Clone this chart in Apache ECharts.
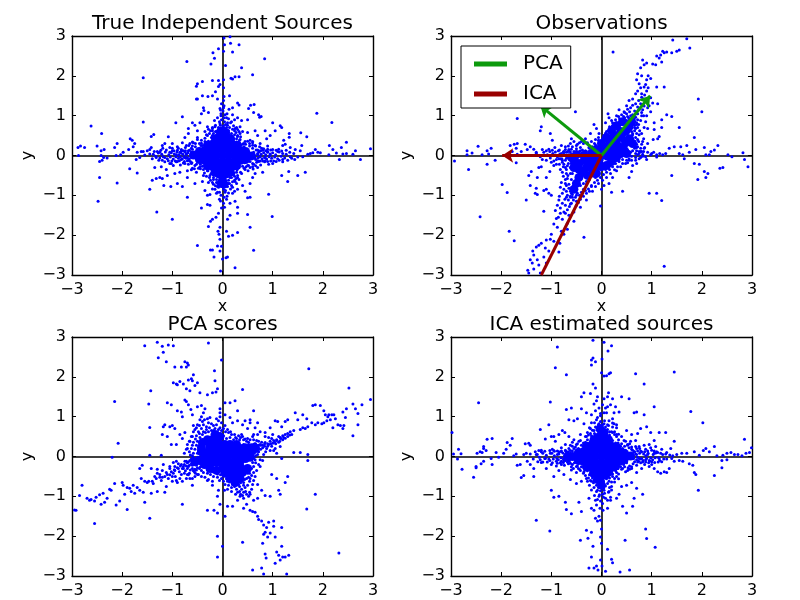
<!DOCTYPE html>
<html><head><meta charset="utf-8">
<script src="https://cdn.jsdelivr.net/npm/echarts@6/dist/echarts.min.js"></script>
<style>html,body{margin:0;padding:0;background:#fff}#c{width:800px;height:600px}</style></head>
<body><div id="c"></div>
<script>
const titles=["True Independent Sources","Observations","PCA scores","ICA estimated sources"];
const tickValues=[-3,-2,-1,0,1,2,3];
const tickLabels=["\u22123","\u22122","\u22121","0","1","2","3"];
const pcaArrows=[[[0,0],[0.97,1.5]],[[0,0],[-1.22,1.25]]];
const icaArrows=[[[0,0],[-1.98,0]]];
const icaLine=[[[0,0],[-1.2,-3]]];

const sourcesCore=[[0,0],[.12,0],[-.12,0],[.24,0],[-.24,0],[.36,0],[-.36,0],[.48,.01],[-.48,.01],[.58,-.01],[-.58,.01],[0,.16],[.12,.16],[-.12,.16],[.24,.16],[-.24,.15],[.36,.12],[-.36,.12],[.46,.1],[-.46,.1],[0,.32],[.1,.32],[-.1,.32],[.2,.28],[-.2,.28],[.3,.26],[-.3,.26],[0,.48],[.08,.48],[-.07,.47],[.16,.42],[-.14,.42],[0,.62],[.06,.58],[-.04,.6],[0,-.16],[.12,-.16],[-.12,-.16],[.24,-.16],[-.24,-.15],[.36,-.12],[-.36,-.12],[.46,-.1],[-.46,-.1],[0,-.32],[.1,-.32],[-.1,-.32],[.2,-.28],[-.2,-.28],[.28,-.26],[-.3,-.26],[0,-.48],[.08,-.46],[-.08,-.46],[.15,-.42],[-.15,-.42],[0,-.62],[.03,-.72],[-.03,-.7]];
const sourcesMid=[[-1.28,.06],[-1.21,.03],[-1.14,.09],[-1.07,.02],[-1.02,.07],[-.96,.04],[-.91,.09],[-.87,.02],[-.83,.06],[-.79,.03],[-.75,.09],[-.72,.04],[-.69,.07],[.7,.05],[.73,.09],[.77,.03],[.82,.07],[.86,.02],[.9,.08],[.95,.04],[1,.07],[1.06,.02],[1.13,.09],[1.2,.05],[1.27,.03],[-1.25,-.06],[-1.18,-.03],[-1.1,-.08],[-1.04,-.04],[-.98,-.09],[-.93,-.03],[-.88,-.07],[-.84,-.04],[-.8,-.08],[-.76,-.03],[-.73,-.07],[-.7,-.05],[.71,-.06],[.75,-.03],[.79,-.08],[.84,-.05],[.88,-.09],[.93,-.03],[.98,-.07],[1.04,-.04],[1.1,-.08],[1.17,-.02],[1.24,-.06],[-1,.18],[-.9,.22],[-.82,.15],[-.74,.2],[-.67,.25],[-.6,.16],[-.54,.22],[-.48,.17],[-.43,.25],[.43,.22],[.48,.15],[.54,.24],[.6,.18],[.67,.14],[.74,.22],[.82,.17],[.9,.24],[-1.02,-.2],[-.92,-.16],[-.84,-.24],[-.76,-.15],[-.68,-.22],[-.61,-.18],[-.55,-.25],[-.49,-.16],[-.44,-.22],[.44,-.18],[.5,-.25],[.55,-.15],[.62,-.22],[.68,-.17],[.76,-.24],[.84,-.16],[.92,-.22],[-.6,.34],[-.5,.4],[-.42,.31],[-.35,.43],[-.28,.36],[-.22,.45],[.22,.42],[.28,.34],[.35,.4],[.42,.3],[.5,.36],[.6,.32],[-.62,-.36],[-.52,-.42],[-.44,-.33],[-.36,-.44],[-.29,-.38],[-.23,-.46],[.23,-.43],[.29,-.36],[.36,-.42],[.43,-.32],[.51,-.38],[.61,-.34],[-.18,.55],[-.12,.6],[-.2,.68],[-.14,.76],[-.08,.7],[.12,.62],[.18,.55],[.14,.7],[.2,.66],[.1,.76],[.16,.82],[.24,.9],[.12,.92],[.06,.78],[-.06,.85],[-.1,.95],[-.03,1],[.03,.95],[.09,1.05],[-.04,1.14],[.02,1.2],[-.02,1.3],[.04,.85],[.27,.58],[.24,.52],[.3,.5],[-.26,.55],[-.32,.52],[-.18,-.55],[-.12,-.6],[-.2,-.68],[-.14,-.76],[-.08,-.8],[.12,-.62],[.18,-.55],[.14,-.7],[.2,-.66],[.1,-.78],[.16,-.84],[.24,-.9],[.12,-.94],[.06,-.88],[-.06,-.92],[-.12,-.95],[-.03,-1],[.03,-1.05],[.09,-1.02],[-.04,-1.14],[.02,-1.2],[-.02,-1.32],[.27,-.58],[.24,-.52],[.3,-.5],[-.26,-.55],[-.32,-.52],[-.38,-.5],[.06,-.7],[-.06,-.7],[.08,.7],[-.04,.76],[.55,.05],[.62,.08],[.65,-.06],[-.62,.09],[-.66,-.08],[.3,.48],[.36,.47],[-1.45,.04],[-1.4,-.08],[-1.36,.1],[-1.33,-.02],[-1.27,-.12],[-1.23,.13],[-1.19,.18],[-1.15,-.16],[-1.12,.14],[-1.08,-.13],[-1.05,.2],[-1.01,-.14],[-.97,.12],[-.94,-.14],[-.9,.13],[-.86,-.13],[-.82,.11],[-.78,-.19],[-.74,.12],[-.7,-.13],[-.66,.13],[-.64,-.15],[-.6,.24],[-.56,-.33],[-.54,.3],[-.48,-.32],[-.46,.3],[-.4,-.27],[-.4,.25],[-.33,-.32],[-.32,.3],[.33,.32],[.33,-.3],[.4,.28],[.4,-.27],[.46,.28],[.47,-.28],[.54,.3],[.55,-.3],[.6,.26],[.6,-.28],[.66,.24],[.66,-.26],[.7,.14],[.7,-.13],[.76,.12],[.75,-.14],[.8,.13],[.8,-.14],[.86,.12],[.85,-.13],[.9,.16],[.9,-.15],[.96,.14],[.96,-.14],[1,.15],[1.02,-.14],[1.07,.13],[1.07,-.15],[1.12,.16],[1.13,-.12],[1.18,.11],[1.2,-.16],[1.27,.13],[1.3,-.12],[1.34,.08],[1.38,-.07],[1.42,.05],[1.5,-.04],[-.24,.62],[-.28,.66],[.28,.7],[.24,.62],[.33,.6],[-.24,-.62],[-.28,-.68],[.28,-.7],[.24,-.62],[.33,-.6],[.2,-.8],[-.2,-.84]];
const sourcesOuter=[[-2.88,.2],[-2.83,.24],[-2.75,.2],[-2.87,0],[-2.5,.24],[-2.42,.12],[-2.36,.15],[-2.42,0],[-2.45,-.15],[-2.4,-.12],[-2.37,-.05],[-2.3,-.06],[-2.15,.2],[-2.1,.3],[-2.12,0],[-2.03,.02],[-1.98,.08],[-1.87,.15],[-1.84,.42],[-1.8,.38],[-1.78,.22],[-1.75,.3],[-1.72,-.1],[-1.7,.08],[-1.65,-.05],[-1.62,.1],[-1.58,.1],[-1.55,.01],[-1.5,.12],[-1.45,.15],[-1.42,.2],[-2.62,.74],[-2.41,.55],[-1.58,.84],[-2.45,-.55],[-2.1,-.69],[-2.48,-1.15],[-1.85,-.33],[-1.7,-.44],[-1.45,-.85],[-1.31,-1.42],[-1,-1.6],[-.7,-1.05],[-1.58,1.95],[-.71,2.36],[.84,2.43],[.6,2.03],[.38,2.2],[.06,2.26],[-.23,2.3],[-.16,2.44],[-.19,2.58],[-.08,2.68],[.02,2.62],[.04,2.78],[.16,2.82],[.03,2.95],[.15,2.98],[.33,2.78],[.2,2.6],[.25,1.98],[.33,1.98],[.2,1.92],[.17,1.94],[.02,1.9],[-.08,1.88],[-.2,1.88],[-.4,1.86],[-.5,1.8],[-.52,1.74],[-.08,1.73],[-.05,1.78],[.02,1.7],[-.14,1.6],[-.29,1.48],[-.4,1.5],[-.5,1.42],[-.2,1.5],[-.1,1.42],[.14,1.5],[.03,1.48],[-.52,1.42],[.3,1.32],[.33,1.27],[.56,1.26],[.63,1.28],[.52,1.18],[.2,1.2],[.13,1.16],[-.38,1.2],[-.37,1.13],[-.42,1.05],[-.28,1.08],[.02,1.38],[.03,1.25],[-.05,1.18],[.01,1.12],[-.03,1.05],[.05,1.02],[.08,.95],[.2,1.02],[.3,.95],[.38,.88],[.5,.9],[.62,1.08],[.72,1.02],[.77,.98],[.74,.96],[-.8,.97],[-.6,.82],[-.93,.82],[-.68,.68],[-.55,.76],[-.45,.82],[-.5,.62],[-.3,.72],[-.35,.6],[-.2,.7],[-.16,.88],[-.2,.62],[.25,.68],[.35,.72],[.4,.6],[.5,.58],[.65,.62],[.7,.5],[.85,.62],[.95,.5],[1,.82],[1.15,.75],[1.18,.7],[1.05,.62],[.88,.42],[1.22,.38],[1.33,.46],[1.33,.55],[1.56,.57],[1.68,.47],[1.88,1.06],[2.18,.83],[2.47,.33],[2.37,.2],[2.13,.25],[2.2,.15],[2.6,.03],[2.65,.12],[2.95,.17],[2.75,-.1],[2.27,.06],[2.33,-.1],[2.4,.04],[2.47,.05],[2.12,.02],[1.95,.07],[1.9,.08],[1.85,.15],[1.7,.03],[1.75,.05],[1.8,.07],[1.55,.12],[1.45,.15],[1.35,.2],[1.25,.28],[1.2,.25],[1.6,-.03],[1.58,.25],[1.44,-.1],[1.5,-.5],[1.65,-.42],[1.32,-.4],[1.3,-.65],[1.18,-.5],[1.35,-.03],[1.2,-.1],[1.1,.1],[1,-.2],[.9,.1],[.95,.02],[.85,-.05],[.78,.18],[.72,.12],[.75,.3],[.65,.25],[.6,.35],[.55,.38],[.7,-.3],[.8,-.42],[.65,-.45],[.6,-.55],[.55,-.7],[.45,-.9],[.5,-1.06],[.55,-1.05],[.92,-.97],[.99,-1.53],[.5,-1.48],[.55,-1.8],[.62,-2.38],[.25,-2.82],[.1,-2.55],[.07,-2.57],[0,-2.6],[-.04,-2.9],[-.17,-2.55],[-.05,-2.4],[-.02,-2.28],[-.1,-2.27],[-.5,-2.26],[-.24,-2.37],[-.2,-2.37],[-.05,-2.1],[.12,-2.03],[.2,-2],[.3,-1.93],[-.07,-1.98],[-.09,-1.9],[-.05,-1.8],[.1,-1.6],[.15,-1.5],[.3,-1.45],[.08,-1.9],[-.2,-1.6],[-.24,-1.65],[-.28,-1.78],[-.13,-1.55],[-.08,-1.45],[-.42,-1.32],[-.25,-1.25],[-.3,-1.23],[.04,-1.3],[.15,-1.2],[.25,-1.15],[.3,-1.3],[.08,-1.1],[-.06,-1.1],[-.3,-1],[-.25,-.98],[-.35,-.88],[-.1,-.92],[-.15,-.85],[.2,-.95],[.3,-.85],[.4,-.75],[-.4,-.65],[-.55,-.7],[-.7,-.55],[-.8,-.78],[-.9,-.7],[-1.03,-.78],[-1.17,-.75],[-1.2,-.58],[-1.1,-.5],[-.95,-.45],[-.85,-.42],[-.7,-.38],[-.6,-.32],[-1.25,-.55],[-1.32,-.58],[-1.4,-.62],[-1.35,-.3],[-1.22,-.28],[-1.12,-.35],[-1.05,-.2],[-.98,-.25],[-.9,-.15],[-.82,-.1],[-.75,-.2],[-1.32,-.05],[-1.2,-.12],[-1.15,-.05],[-1.05,.08],[-1,.12],[-.92,.02],[-.85,.08],[-.78,.12],[-1.3,.1],[-1.25,.08],[-1.38,.03],[-1.2,.25],[-1.15,.3],[-1.08,.47],[-1,.3],[-.88,.18],[-.8,.32],[-.72,.25],[-.65,.3],[-.58,.32],[-.75,.45],[-.68,.55],[-.5,.45],[-.42,.38],[-.35,.35],[-.3,.5],[-1.37,.53],[-1.42,.48],[.35,.55],[.28,.42],[.45,.35],[.42,.2],[.7,.02],[.66,-.1],[.72,-.15],[.6,-.2],[.52,-.25],[.45,-.35],[.38,-.45],[.3,-.55],[.25,-.65],[-.05,.8],[-.02,.9],[.02,.75],[.1,.82],[.18,.85],[.22,.75],[.3,.65],[.34,.38],[-.14,.6],[-.2,.5],[-.15,.72],[-.18,-.6],[-.25,-.5],[-.3,-.38],[-.38,-.35],[-.45,-.28],[-.52,-.22],[-.62,-.2],[-.68,-.12],[-.72,.04],[-.68,.12],[-.62,.18],[-.75,-.05],[.15,-.55],[.22,-.48],[.28,-.42],[.12,-.7],[.18,-.75],[-.12,-.68],[-.18,-.72],[-.1,-.78],[.02,-.85],[.05,-.92]];

const obsCore=[[0,0],[.1,.1],[.2,.2],[.3,.3],[.4,.45],[.48,.6],[.55,.72],[.6,.85],[.12,.22],[.22,.35],[.3,.48],[.38,.6],[.18,.05],[.28,.12],[.38,.2],[.48,.32],[.56,.42],[.12,-.02],[.05,.2],[.15,.38],[.25,.5],[-.1,-.1],[-.2,-.2],[-.3,-.3],[-.38,-.42],[-.45,-.55],[-.5,-.7],[-.55,-.85],[-.1,-.02],[-.22,-.08],[-.34,-.12],[-.45,-.2],[-.55,-.12],[-.08,-.25],[-.18,-.35],[-.28,-.5],[-.05,-.12],[0,-.28],[-.1,-.45],[-.02,.12],[.38,.05],[.46,.12],[.05,.08],[.62,.3],[.5,.05],[.3,-.05],[.2,-.15],[.1,-.25],[-.55,-.3],[-.45,-.35],[-.6,-.05],[-.5,.02],[-.35,0],[-.2,.05],[-.1,.15],[0,.3],[.1,.45],[.2,.62],[.3,.75],[.42,.85]];
const obsMid=[[-1.3,.05],[-1.22,-.03],[-1.15,.08],[-1.08,.02],[-1.02,-.06],[-.97,.05],[-.92,.09],[-.88,-.03],[-.83,.04],[-.79,-.08],[-.75,.03],[-.72,-.12],[-.7,.08],[-.66,.02],[-.63,-.04],[-1,-.17],[-.9,-.22],[-.84,.14],[-.78,-.17],[-.72,.15],[-.66,-.2],[-.6,.16],[-.55,.1],[-.5,.17],[-.44,.1],[-.38,.14],[-.32,.12],[-.24,.18],[-.18,.22],[-.12,.27],[-.05,.3],[.02,.42],[.05,.5],[.1,.6],[.16,.72],[.22,.82],[.28,.9],[.34,.98],[.4,1.02],[.46,1.08],[.52,1.16],[.58,1.2],[.62,1.26],[.68,1.3],[.74,1.38],[.8,1.46],[.84,1.42],[.72,1.22],[.66,1.12],[.7,1.05],[.62,1.02],[.58,1],[.54,.95],[.68,.96],[.75,1.15],[.78,1.3],[.86,1.52],[.9,1.62],[.93,1.7],[.88,1.78],[.78,1.7],[.64,.9],[.7,.82],[.72,.7],[.76,.62],[.7,.55],[.68,.45],[.74,.35],[.7,.28],[.66,.18],[.62,.12],[.68,.05],[.72,.02],[.78,-.05],[.6,-.02],[.55,-.08],[.5,-.12],[.42,-.1],[.35,-.15],[.28,-.2],[.22,-.28],[.16,-.35],[.1,-.42],[.04,-.48],[-.02,-.55],[-.08,-.62],[-.14,-.68],[-.2,-.78],[-.26,-.84],[-.3,-.72],[-.36,-.7],[-.24,-.6],[-.16,-.52],[-.32,-.88],[-.38,-.95],[-.44,-1],[-.48,-.95],[-.52,-1.05],[-.56,-1.12],[-.6,-1.2],[-.64,-1.28],[-.68,-1.36],[-.72,-1.45],[-.58,-.98],[-.62,-.9],[-.68,-1],[-.73,-1.1],[-.78,-1.2],[-.82,-1.45],[-.86,-1.55],[-.7,-.9],[-.65,-.72],[-.6,-.6],[-.58,-.45],[-.62,-.3],[-.7,-.45],[-.72,-.3],[-.78,-.12],[-.8,.05],[-.72,-.6],[-.67,-.5],[-.42,-.75],[-.36,-.85],[-.5,-.85],[.78,.18],[.84,.1],[.82,.03],[.88,-.03],[.92,.08],[.98,.02],[1.04,.08],[1.1,-.04],[1.16,.05],[1.22,.02],[.75,.1],[.7,.2],[.6,.6],[.72,.9],[.66,.76],[.8,1.08],[.85,1.24],[.92,1.35],[.98,1.45],[-.02,.22],[.04,.36],[.08,.56],[.14,.62],[.22,.75],[.3,.82],[.36,.92],[.44,.98],[.5,1.05],[.56,1.1],[-.3,.1],[-.42,.2],[-.5,.25],[-.58,.22],[-.66,.24],[-.62,.3],[-.55,.35],[-.44,.32],[-.36,.3],[-.28,.32],[-.2,.35],[-.12,.4],[-.06,.45],[-.3,-.65],[-.12,-.55],[.08,-.35],[.18,-.25],[.26,-.12],[.4,-.02],[.54,.02],[.58,.08],[.65,.35],[.62,.52],[.55,.6],[.6,.75],[.66,.62],[-1.18,.15],[-1.1,-.12],[-1.05,.16],[-.98,.13],[-.95,-.14],[-.86,.12],[-.82,-.08],[-.76,.09],[-.7,-.07],[-.67,.1],[-.72,.22],[-.65,.12],[-.62,.09],[-.84,-.22],[-.76,-.28],[-.68,-.26],[-.78,-.42],[-.76,-.52],[-.8,-.68],[-.82,-.8],[-.78,-.95],[-.84,-1.02],[-.88,-1.25],[-.92,-1.38],[-.7,-.75],[-.66,-1.12],[-.62,-1.02],[-.56,-.9],[-.5,-1.15],[-.46,-1.18],[-.42,-1.1],[-.36,-1.02],[-.3,-.95],[-.24,-.9],[-.12,-.78],[-.06,-.7],[.02,-.62],[.1,-.55],[.18,-.45],[.26,-.36],[.32,-.28],[.42,-.2],[.52,-.18],[.6,-.12],[.68,-.05],[.75,.05],[.8,.1],[.86,.2],[.8,.28],[.84,.42],[.8,.55],[.85,.7],[.88,.85],[.9,1],[.95,1.25],[.84,1],[.78,.88],[.74,.78],[.68,.68],[.5,.88],[.46,.95],[.38,.78],[.26,.68],[.12,.52],[.04,.46],[-.06,.38],[-.14,.3]];
const obsOuter=[[-2.93,-.14],[-2.68,.12],[-2.68,.02],[-2.65,-.35],[-2.58,.06],[-2.46,.23],[-2.38,.02],[-2.28,.12],[-2.28,-.22],[-2.25,.04],[-2.2,.18],[-2.12,-.12],[-2.42,-1.54],[-1.98,-.73],[-1.88,-.93],[-1.84,-1.9],[-1.74,-2.14],[-1.82,.25],[-1.78,.1],[-1.74,.28],[-1.7,.18],[-1.68,.3],[-1.68,.03],[-1.7,-.18],[-1.6,.1],[-1.52,.28],[-1.48,.15],[-1.42,.22],[-1.35,.16],[-1.3,.08],[-1.5,-1.12],[-1.45,-.5],[-1.4,-.4],[-1.42,-.75],[-1.32,-.95],[-1.28,-.98],[-1.3,-.82],[-1.25,-.3],[-1.18,-.1],[-1.2,-.28],[-1.15,-.88],[-1.1,-.85],[-1.15,-1.4],[-1.05,-.95],[-1,-1],[-1.28,-.55],[-1.1,-.55],[-1.03,-.4],[-.95,-.25],[-.9,-.1],[-1.68,.93],[-1.2,.72],[-1.22,.62],[-1.02,.55],[-.98,.38],[-.8,.25],[-.93,.2],[-1.03,.1],[-1.1,.12],[-.75,.1],[-.65,.15],[-.52,1.1],[-.6,.42],[-.48,.28],[-.4,.35],[-.32,.42],[-.22,.55],[-.15,.78],[-.1,.68],[-.05,.55],[-.25,.2],[.13,1.05],[.15,.95],[.2,.88],[.22,.75],[.08,.82],[.3,1],[.35,1.15],[.45,1.1],[.5,1.25],[.55,1.38],[.62,1.42],[.68,1.55],[.72,1.62],[.8,1.55],[.85,1.72],[.75,1.8],[.7,1.9],[.8,2],[.9,1.9],[.93,2],[.98,1.93],[.72,2.05],[.78,2.2],[.85,2.28],[.82,2.4],[.9,2.32],[1.02,2.3],[1.08,2.28],[1.1,2.5],[1.15,2.45],[1.18,2.52],[1.2,2.35],[1.25,2.58],[1.3,2.6],[1.22,2.62],[1.4,2.58],[1.5,2.62],[1.55,2.65],[1.42,2.9],[1.7,2.93],[1.76,2.7],[.23,2.6],[1.25,-2.78],[1.93,1.42],[2,1.1],[1.85,.45],[1.55,.7],[1.4,.98],[1.3,1.02],[1.2,.9],[1.05,.82],[.92,.68],[1.05,.65],[1.2,.7],[1.15,.48],[1.12,.42],[1.03,.4],[.92,.3],[.82,.35],[.85,.18],[.78,.1],[.7,.12],[.68,.22],[.72,.4],[.75,.52],[.62,.55],[.5,.55],[.66,.7],[.7,.78],[.72,1.05],[.82,1.15],[.92,1.2],[1.02,1.32],[1.1,1.72],[1.25,1.72],[1.12,1.3],[.98,1.1],[.8,1],[.65,.92],[.52,.98],[.42,.9],[.35,.82],[1.28,.05],[1.35,.18],[1.45,.22],[1.55,.05],[1.62,.02],[1.65,-.08],[1.7,.25],[1.58,.22],[1.75,.08],[1.88,.15],[2.05,.2],[2.08,.02],[2.15,.02],[2.18,.1],[2.25,.14],[2.32,.25],[2.52,.02],[2.6,-.03],[2.82,.07],[2.85,-.1],[2.92,-.28],[2.42,-.3],[2.36,-.32],[2.12,-.45],[2.05,-.4],[2.08,-.55],[1.92,-.6],[1.95,-.22],[1.85,-.2],[1.4,-.5],[1.2,-1.13],[1.1,-.95],[.95,-.95],[.42,-.9],[.2,-.92],[.55,-.55],[.6,-.4],[.7,-.2],[.82,-.02],[.9,-.1],[1,.05],[1.1,.02],[.48,-.2],[.38,-.28],[.3,-.38],[.22,-.55],[.15,-.7],[.05,-.75],[0,-.85],[-.02,-1.27],[-.18,-.9],[-.2,-.75],[-.3,-1.12],[-.35,-2.05],[-.7,-1.05],[-.72,-1.25],[-.65,-1.5],[-.68,-1.7],[-.62,-1.22],[-.58,-1.05],[-.5,-1.25],[-.42,-1.3],[-.55,-1.42],[-.75,-1.42],[-.78,-1.6],[-.82,-1.32],[-.85,-1.12],[-.8,-1.9],[-.9,-1.58],[-.95,-1.72],[-1,-1.98],[-.88,-1.8],[-.75,-1.98],[-.83,-2.2],[-.85,-2.42],[-.95,-2.15],[-1.02,-2.1],[-1.1,-2.12],[-1.12,-2.32],[-1.05,-2.4],[-1.15,-2.55],[-1.2,-2.2],[-1.25,-2.25],[-1.3,-2.3],[-1.35,-2.5],[-1.37,-2.4],[-1.38,-2.7],[-1.42,-2.62],[-1.47,-2.88],[-1.45,-2.95],[-1.35,-2.85],[-1.25,-2.75],[-1.28,-2.62],[-1.1,-2.7],[-1.22,-2.95],[-.6,-.95],[-.65,-.82],[-.72,-.7],[-.75,-.85],[-.68,-.58],[-.62,-.45],[-.7,-.35],[-.75,-.22],[-.82,-.35],[-.85,-.08],[-.6,-.2],[-.68,-.02],[-.5,.1],[-.42,.12],[-.35,.1],[-.2,.12],[-.55,-1.65],[-.68,-1.85],[-.62,-1.05],[-.5,-1],[-.4,-.92],[.75,-.08],[.62,-.25],[.55,-.12],[.68,-.12],[.72,.22]];

const pcaCore=[[0,0],[.12,.02],[.24,.05],[.36,.08],[.48,.1],[.58,.13],[-.12,-.02],[-.24,-.04],[-.36,-.06],[-.46,-.1],[-.55,-.13],[0,.15],[.12,.16],[.24,.18],[.36,.2],[-.12,.15],[-.22,.12],[-.32,.1],[-.05,.3],[-.15,.28],[-.25,.26],[.05,.3],[-.1,.42],[-.2,.42],[-.15,.55],[0,-.15],[.12,-.14],[.24,-.12],[.36,-.1],[.46,-.05],[-.12,-.15],[-.24,-.18],[-.36,-.2],[0,-.3],[.12,-.3],[.24,-.28],[.35,-.25],[.05,-.42],[.15,-.42],[.28,-.42],[.15,-.54],[.3,-.55],[.25,-.65],[.58,.22],[.66,.2],[.55,-.02],[-.4,.35],[-.3,.42],[.4,-.4],[.5,-.3],[.35,-.55],[-.42,.12],[-.42,.22],[.15,.3],[.28,.3],[.45,.22],[-.25,-.3],[-.12,-.35],[-.05,.5]];
const pcaMid=[[-1.4,-.62],[-1.32,-.55],[-1.25,-.45],[-1.2,-.52],[-1.12,-.4],[-1.08,-.55],[-1.02,-.38],[-.98,-.42],[-.94,-.5],[-.9,-.28],[-.86,-.38],[-.82,-.45],[-.78,-.25],[-.74,-.36],[-.7,-.3],[-.66,-.42],[-.62,-.18],[-.6,-.3],[-.56,-.38],[-.52,-.22],[-.65,-.1],[-.58,-.12],[-.7,-.16],[-.75,-.12],[-.8,-.3],[-.88,-.18],[-.95,-.25],[-.98,-.15],[-1.05,-.3],[-.46,-.3],[-.42,-.35],[-.38,-.4],[-.3,-.42],[-.24,-.45],[-.18,-.5],[-.1,-.52],[-.06,-.6],[-.02,-.55],[-.2,-.62],[.02,-.62],[.05,-.7],[.12,-.72],[.18,-.78],[.1,-.62],[.28,-.82],[.34,-.75],[.42,-.65],[.48,-.55],[.54,-.42],[.58,-.3],[.6,-.15],[.65,-.08],[.7,.05],[.72,.12],[.76,.18],[.8,.22],[.84,.26],[.88,.2],[.92,.3],[.96,.32],[1,.33],[1.04,.36],[1.08,.4],[1.12,.36],[1.16,.45],[1.2,.42],[1.25,.46],[1.3,.5],[1.34,.54],[1.38,.55],[.78,.36],[.72,.38],[.68,.4],[.62,.42],[.55,.42],[.48,.38],[.42,.42],[.34,.42],[.28,.45],[.22,.42],[.15,.48],[.08,.45],[.02,.52],[.06,.62],[.12,.6],[.18,.55],[.24,.55],[.32,.52],[.38,.55],[-.02,.65],[-.08,.68],[-.15,.7],[-.22,.65],[-.28,.62],[-.34,.6],[-.4,.55],[-.45,.48],[-.5,.38],[-.52,.28],[-.55,.18],[-.58,.08],[-.6,.02],[-.62,-.06],[-.48,.62],[-.42,.7],[-.38,.8],[-.32,.75],[-.28,.85],[-.22,.82],[-.18,.78],[-.12,.8],[-.08,.9],[-.02,.85],[.05,.78],[-.3,.95],[-.36,.92],[-.25,.98],[-.4,.88],[-.46,.78],[-.52,.72],[-.58,.62],[-.62,.5],[-.66,.38],[-.7,.3],[-.72,.18],[-.76,.08],[.32,-.7],[.38,-.82],[.42,-.9],[.36,-.95],[.45,-.78],[.5,-.72],[.3,-.9],[.24,-.75],[.18,-.88],[.1,-.82],[.04,-.85],[.48,-.95],[.52,-1],[.42,-1.05],[.58,-.82],[.6,-.7],[.65,-.5],[.68,-.35],[.72,-.2],[.75,-.08],[.82,.05],[.86,.12],[.95,.15],[1.05,.2],[1.15,.25],[.7,.55],[.75,.62],[.85,.5],[.92,.48],[1,.55],[.6,.5],[-.12,.95],[-.05,1],[-.48,-.45],[-.55,-.5],[-.6,-.55],[-.42,-.5],[-.72,-.55],[-.8,-.62],[-.92,-.6],[-1,-.62],[-.35,-.52],[-.28,-.58],[.42,.3],[.52,.3],[.62,.3],[.72,.28],[.66,.02],[.64,.1],[-.5,-.02],[-.5,.08],[-.48,.15],[-1.3,-.42],[-1.15,-.5],[-1.05,-.46],[-.96,-.33],[-.88,-.3],[-.84,-.24],[-.76,-.2],[-.72,-.24],[-.68,-.14],[-.66,-.22],[-.6,-.22],[-.58,-.36],[-.52,-.34],[-.5,-.28],[-.44,-.26],[-.54,-.42],[-.68,-.46],[-.76,-.42],[-.64,-.34],[-.58,-.02],[-.64,.04],[-.66,.12],[-.62,.2],[-.6,.28],[-.58,.36],[-.54,.44],[-.52,.52],[-.46,.58],[-.38,.62],[-.32,.68],[-.26,.72],[-.18,.65],[-.1,.62],[-.05,.72],[.02,.7],[.1,.68],[.16,.62],[.26,.48],[.36,.48],[.45,.44],[.52,.36],[.66,.32],[.76,.28],[.84,.32],[.9,.26],[.98,.26],[1.06,.32],[1.14,.38],[1.22,.48],[.44,-.58],[.42,-.72],[.36,-.66],[.28,-.72],[.2,-.7],[.14,-.64],[.08,-.56],[-.04,-.46],[-.1,-.44],[-.2,-.38],[-.3,-.34],[.54,-.62],[.52,-.52],[.58,-.48],[.62,-.25],[.66,-.16],[.62,-.04],[.56,.06],[.64,.32],[.34,-.88],[.26,-.95],[.46,-.88],[.4,-.98],[.54,-.9]];
const pcaOuter=[[-2.95,-1.34],[-2.92,-1.35],[-2.85,-.98],[-2.8,-.72],[-2.7,-1.05],[-2.65,-1.1],[-2.62,-1.08],[-2.55,-1.12],[-2.52,-1.02],[-2.55,-1.68],[-2.45,-.96],[-2.42,-1.2],[-2.38,-.92],[-2.35,-1.15],[-2.3,-1.05],[-2.25,-.82],[-2.22,-.85],[-2.15,-.68],[-2.12,-1.22],[-2.05,-1.12],[-2,-.65],[-1.98,-.72],[-1.95,-.95],[-1.9,-.78],[-1.9,-1.33],[-1.85,-.8],[-1.82,-.88],[-1.78,-.72],[-1.75,-.92],[-1.7,-.78],[-1.65,-.85],[-1.62,-.55],[-1.58,-.9],[-1.55,-.62],[-1.55,-1.15],[-1.5,-.65],[-1.47,-.62],[-1.45,-1.55],[-1.42,-.92],[-1.38,-.68],[-1.35,-.5],[-1.3,-.88],[-1.25,-.52],[-1.22,-.6],[-1.2,-.35],[-1.15,-.9],[-1.12,-.75],[-1.1,-.45],[-1.05,-.25],[-1,-.5],[-.95,-.35],[-.9,-.65],[-.85,-.55],[-.8,-1.2],[-.78,-.3],[-.7,-.45],[-.65,-.55],[-.6,-.72],[-.55,-.32],[-.5,-.45],[-1.65,-.3],[-1.6,-.22],[-1.42,-.3],[-1.3,-.32],[-1.18,-.2],[-.92,-.12],[-.82,-.2],[-.72,-.12],[-.68,-.25],[-2.2,-.02],[-2.08,.33],[-1.22,.03],[-1.2,.55],[-1.18,.75],[-1.15,.8],[-1.45,.73],[-1.45,.03],[-1.05,.75],[-1,.78],[-.95,.7],[-1.1,.5],[-1.02,.3],[-.92,.3],[-.85,.55],[-.8,.45],[-.75,.6],[-.7,.2],[-.65,.38],[-.6,.5],[-.55,.68],[-.5,.8],[-.45,.92],[-.42,1],[-.38,1.1],[-.35,1.2],[-.42,1.28],[-.5,1.25],[-.58,.78],[-.6,1.05],[-.63,1.18],[-.68,1.3],[-.72,1.38],[-.75,1.42],[-.8,1],[-.82,1.12],[-.9,1.15],[-1.02,1.3],[-1.1,1.35],[-1.47,1.32],[-2.15,1.38],[-1.43,1.65],[-.72,1.7],[-.65,1.65],[-.55,1.78],[-.5,1.85],[-.45,1.6],[-.3,1.55],[-.2,1.6],[-.13,1.62],[-.1,1.7],[-.15,1.9],[-.78,1.82],[-.85,1.88],[-.9,1.8],[-.98,1.85],[-.92,1.82],[-.68,1.92],[-.6,1.9],[-.62,1.95],[-.58,2.05],[-.72,2.25],[-.68,2.3],[-.7,2.35],[-.75,2.38],[-.82,2.25],[-.95,2.25],[-.16,2.15],[-1.12,2.38],[-1.28,2.48],[-1.18,2.62],[-1.2,2.77],[-1.08,2.8],[-.98,2.78],[-1.55,2.78],[-1.3,2.87],[-.28,2.85],[-.02,2.42],[.4,1.68],[1.72,2.2],[2.52,1.72],[2.95,1.43],[2.78,1.3],[2.6,1.32],[2.47,1.2],[2.65,1.2],[2.4,1.12],[2.7,1.08],[2.45,.98],[2.7,.8],[2.6,.52],[2.4,.7],[2.42,.78],[2.35,.78],[2.3,.8],[2.25,.95],[2.22,1.05],[2.18,1.05],[2.12,1.05],[2.05,1.05],[2.02,1.15],[1.85,1.3],[1.95,1.28],[1.8,1.28],[2.1,1],[2.15,.92],[2.08,.9],[2.2,.72],[2.02,.85],[1.98,.82],[1.9,.85],[1.85,.8],[1.78,.85],[1.7,.75],[1.65,.7],[1.6,.72],[1.55,.68],[1.5,.92],[1.45,1.1],[1.6,1.05],[1.68,.95],[1.42,.65],[1.35,.62],[1.3,.58],[1.25,.55],[1.2,.52],[1.15,.48],[1.12,.5],[1.08,.42],[1.02,.4],[.98,.45],[.95,.38],[.9,.32],[.85,.35],[.8,.28],[.75,.3],[.68,.28],[.62,.2],[1.18,.75],[1.25,.88],[1.3,.92],[1.1,.88],[1.05,.9],[.95,.72],[.85,.6],[.7,.85],[.65,.72],[.62,.55],[.55,.85],[.5,.7],[.45,.9],[.55,.92],[.62,1.15],[.4,.8],[.3,.9],[.2,.85],[.15,.98],[.05,1.05],[-.05,1.1],[-.05,1.2],[.05,1.35],[.15,1.35],[.25,1.4],[.3,1.15],[.4,.5],[.5,.45],[1.02,.15],[1.08,.08],[1.18,-.05],[1.42,.1],[1.55,.1],[1.7,.05],[1.7,-.1],[.8,-.1],[.75,-.25],[.62,-.4],[.5,-.42],[.55,-.55],[.62,-.6],[.7,-.7],[.78,-.85],[.98,-.45],[1.08,-.55],[1.12,-.85],[1.25,-.65],[1.3,-.5],[1.15,-.95],[.95,-1],[.85,-.98],[.7,-1.05],[.62,-1.1],[.55,-.95],[.48,-1.2],[.42,-1.3],[.35,-1],[.3,-1.1],[.2,-1.25],[.1,-1.25],[-.05,-1.2],[-.1,-1],[-.1,-1.42],[-.17,-1.35],[-.3,-1.35],[-.08,-.85],[-.2,-.72],[-.3,-.6],[.05,-1.5],[.55,-1.35],[.6,-1.38],[.65,-1.4],[.7,-1.5],[.72,-1.58],[.78,-1.62],[.82,-1.72],[.88,-1.78],[.92,-1.65],[1.02,-1.62],[1.02,-1.75],[.85,-1.9],[.95,-1.92],[.9,-2.02],[.82,-1.95],[1.18,-1.78],[1.05,-2.02],[.8,-2.18],[.4,-2.15],[.85,-2.45],[.87,-2.55],[1.08,-2.4],[1.12,-2.48],[1.18,-2.25],[1.2,-2.52],[1.25,-2.52],[1.15,-2.6],[1.05,-2.68],[1.32,-2.48],[.6,-2.85],[.78,-2.8],[.82,-2.95],[1.28,-2.95],[-.1,-2.52],[-.1,-2],[0,-2.25],[1.85,-.95],[1.68,-1.32],[2.32,-2.42]];

const icaCore=[[0,0],[.12,0],[-.12,0],[.24,0],[-.24,0],[.36,.02],[-.36,.01],[.48,0],[-.48,.02],[.58,.01],[-.58,0],[-.68,0],[0,.16],[.12,.14],[-.12,.16],[.24,.14],[-.24,.15],[.36,.12],[-.36,.12],[.46,.08],[-.46,.1],[0,.32],[.1,.3],[-.1,.32],[.2,.26],[-.2,.28],[.3,.24],[-.3,.26],[0,.48],[.07,.46],[-.08,.48],[.14,.42],[-.15,.42],[0,.62],[-.03,.7],[.05,.6],[0,-.16],[.12,-.16],[-.12,-.16],[.24,-.14],[-.24,-.15],[.36,-.12],[-.36,-.12],[.45,-.08],[-.46,-.1],[0,-.32],[.1,-.3],[-.1,-.32],[.2,-.28],[-.2,-.28],[.28,-.24],[-.3,-.26],[0,-.48],[.08,-.46],[-.08,-.48],[.14,-.4],[-.16,-.42],[-.02,-.62],[0,-.72],[-.08,-.58]];
const icaMid=[[-1.3,.05],[-1.24,-.02],[-1.17,.08],[-1.1,.03],[-1.05,-.06],[-.99,.08],[-.94,.02],[-.89,-.05],[-.85,.06],[-.81,-.03],[-.77,.09],[-.74,-.07],[-.71,.04],[.68,.06],[.72,-.02],[.76,.08],[.8,-.05],[.84,.06],[.88,.02],[.93,.08],[.98,-.04],[1.03,.05],[1.08,.09],[1.14,-.03],[1.22,.05],[-1.22,-.08],[-1.13,-.05],[-1.03,-.1],[-.96,-.06],[-.9,-.12],[-.86,-.08],[-.8,-.12],[-.76,-.06],[-.72,-.1],[.7,-.08],[.74,-.12],[.78,-.06],[.83,-.1],[.9,-.05],[.96,-.11],[1.02,-.08],[1.07,-.03],[1.16,-.1],[1.24,-.06],[-.98,.18],[-.88,.14],[-.8,.22],[-.72,.16],[-.65,.2],[-.58,.14],[-.52,.24],[-.46,.2],[.42,.2],[.48,.14],[.55,.22],[.62,.16],[.7,.2],[.78,.14],[.88,.18],[.98,.22],[1.08,.25],[-1,-.2],[-.9,-.24],[-.82,-.16],[-.74,-.22],[-.66,-.18],[-.6,-.26],[-.54,-.16],[-.48,-.24],[.44,-.2],[.5,-.16],[.56,-.24],[.63,-.18],[.7,-.22],[.78,-.16],[.86,-.2],[.95,-.25],[-.58,.36],[-.5,.3],[-.42,.4],[-.36,.34],[-.28,.42],[-.22,.38],[.22,.4],[.28,.34],[.34,.42],[.4,.32],[.48,.38],[.56,.32],[-.6,-.34],[-.5,-.4],[-.44,-.32],[-.36,-.42],[-.28,-.36],[-.24,-.46],[.22,-.44],[.28,-.36],[.34,-.44],[.4,-.32],[.48,-.38],[.56,-.32],[-.2,.52],[-.14,.58],[-.18,.66],[-.12,.74],[-.08,.66],[-.06,.8],[.1,.56],[.16,.54],[.2,.62],[.12,.68],[.08,.74],[.14,.78],[.22,.74],[.02,.8],[-.02,.88],[.06,.9],[-.14,.85],[.15,.9],[.22,.95],[-.08,.98],[-.02,1.02],[.05,1.1],[-.12,1.15],[-.05,1.22],[.02,1.3],[.12,1.25],[-.18,-.54],[-.12,-.6],[-.16,-.66],[-.1,-.72],[-.06,-.78],[.1,-.56],[.16,-.54],[.2,-.64],[.12,-.68],[.08,-.74],[.16,-.78],[.04,-.8],[-.02,-.86],[-.1,-.88],[.06,-.92],[.14,-.9],[-.14,-.98],[-.04,-.96],[-.08,-1.08],[.04,-1.02],[.12,-1.1],[.18,-1.02],[.02,-1.18],[-.1,-1.22],[-.03,-1.3],[.26,-.55],[.3,-.5],[-.26,-.54],[-.32,-.48],[.26,.55],[.3,.5],[-.26,.54],[-.32,.5],[.6,.06],[.64,-.05],[-.62,.08],[-.64,-.1],[.22,.84],[.3,.8],[-.24,.72],[-.24,-.72],[-1.42,.06],[-1.36,-.06],[-1.32,.12],[-1.27,-.13],[-1.2,.16],[-1.17,-.14],[-1.13,.13],[-1.08,-.14],[-1.03,.15],[-.98,-.16],[-.94,.13],[-.88,-.17],[-.85,.12],[-.8,.14],[-.76,-.15],[-.71,.13],[-.68,-.14],[-.66,.12],[-.62,-.17],[-.58,.26],[-.56,-.3],[-.48,.32],[-.46,-.3],[-.4,.28],[-.4,-.26],[-.32,.36],[-.33,-.34],[.33,.34],[.33,-.3],[.38,.26],[.38,-.26],[.46,.26],[.46,-.26],[.52,.3],[.53,-.28],[.6,.24],[.6,-.26],[.66,.12],[.66,-.13],[.72,.14],[.72,-.14],[.76,.2],[.8,.12],[.82,-.14],[.86,.12],[.88,-.14],[.92,.14],[.94,-.16],[1,.16],[1,-.13],[1.05,.14],[1.06,-.15],[1.12,.1],[1.13,-.14],[1.18,.08],[1.2,-.13],[1.28,.06],[1.3,-.06],[1.36,.04],[1.42,.02],[-.28,.6],[-.22,.58],[.26,.62],[.34,.56],[-.28,-.62],[-.22,-.6],[.26,-.64],[.34,-.56],[.2,-.84],[-.2,-.84]];
const icaOuter=[[-2.98,.6],[-2.95,.06],[-2.85,.18],[-2.8,.07],[-2.87,-.06],[-2.78,-.32],[-2.55,-.52],[-2.5,-.25],[-2.5,-.28],[-2.48,.08],[-2.42,.12],[-2.38,.1],[-2.4,-.18],[-2.35,-.12],[-2.3,.15],[-2.35,.25],[-2.35,.2],[-2.28,.43],[-2.18,.45],[-2.45,1.35],[-2.2,-.05],[-2.18,-.2],[-2.1,.1],[-2.05,-.02],[-1.95,.08],[-1.9,.18],[-1.88,.35],[-1.82,.28],[-1.78,.45],[-1.75,.02],[-1.7,.06],[-1.68,-.22],[-1.62,-.2],[-1.6,-.53],[-1.55,-.48],[-1.55,.05],[-1.5,.08],[-1.52,.32],[-1.45,.33],[-1.42,.28],[-1.48,-.12],[-1.42,-.2],[-1.35,-.3],[-1.35,-.5],[-1.3,-1.6],[-1.28,.05],[-1.25,.15],[-1.2,.12],[-1.22,.68],[-1.12,.44],[-1.05,.8],[-1.02,1.37],[-1,.5],[-.95,.5],[-.92,.38],[-.85,.55],[-.78,.65],[-.73,.6],[-.65,.5],[-1,-.85],[-1.03,-1.87],[-.95,-1.02],[-.85,-1],[-.72,-1.15],[-.7,-1.33],[-.6,-1.44],[-.45,-1.15],[-.4,-1.38],[-.42,-2.1],[-.3,-1.85],[-.27,-2.05],[-.2,-1.9],[-.17,-2.25],[-.2,-2.52],[-.25,-2.8],[-.15,-2.8],[-.1,-2.75],[-.07,-2.85],[-.02,-2.6],[.01,-2.75],[.08,-2.88],[.2,-2.58],[.22,-2.67],[.37,-2.9],[.56,-2.85],[.12,-2.33],[0,-2.18],[-.02,-2.02],[0,-1.82],[-.02,-1.6],[-.05,-1.5],[-.08,-1.62],[-.12,-1.55],[-.15,-1.35],[-.2,-1.3],[-.25,-1.05],[.03,-1.35],[.12,-1.3],[.18,-1.1],[.3,-1.05],[.35,-.95],[.42,-1.25],[.5,-1.42],[.62,-1.25],[.65,-1.05],[.47,-2.1],[.88,-1.82],[.9,-2.06],[1.07,-2.28],[1.93,-.85],[.82,-.95],[.7,-.8],[.6,-.65],[.5,-.72],[.4,-.75],[.2,-.75],[.15,-.88],[-.15,-.78],[-.2,-.62],[-.3,-.55],[-.4,-.62],[-.5,-.68],[-.62,-.58],[-.75,-.45],[-.85,-.35],[-.95,-.5],[-1.1,-.3],[-1.2,-.15],[-1.12,-.05],[-1.02,.08],[-.95,.15],[-.88,.05],[-.8,.12],[-.75,-.1],[-.8,-.2],[-.72,.3],[-.62,.28],[-.55,.42],[-.45,.38],[-.42,.55],[-.3,.5],[-.35,.82],[-.3,1.1],[-.2,1.05],[-.2,.85],[-.1,.92],[-.05,.82],[.05,.82],[.12,.8],[.25,.82],[.3,.72],[.4,.5],[.5,.65],[.6,.55],[.58,.38],[.68,.4],[.72,.58],[.78,.7],[.65,1.1],[.7,1.12],[.85,1.05],[1.05,1.25],[.9,.75],[.98,.6],[1.15,.6],[1.28,.6],[1.05,.4],[.95,.3],[.85,.28],[.75,.25],[.68,.25],[1.2,.18],[1.3,.1],[1.45,.38],[1.38,.2],[1.5,.05],[1.6,.08],[1.7,.08],[1.85,.12],[1.95,.03],[2.03,.15],[2.08,.2],[2.15,.12],[2.25,.25],[2.3,.02],[2.42,.03],[2.5,.08],[2.58,.1],[2.65,.05],[2.72,.05],[2.8,.02],[2.88,.08],[2.95,.1],[2.99,.22],[2.85,.43],[2.5,-.08],[2.4,-.1],[2.25,-.48],[2.4,-.28],[1.88,-.45],[1.85,-.4],[1.82,-.22],[1.75,-.18],[1.62,-.12],[1.55,-.1],[1.45,-.12],[1.4,-.05],[1.35,-.3],[1.3,-.4],[1.25,-.38],[1.18,-.42],[1.12,-.38],[1.05,-.3],[1,-.2],[.95,-.1],[.88,-.08],[.8,-.3],[.7,-.4],[.6,-.3],[.52,-.35],[.75,-.05],[.7,.05],[.92,.05],[1.05,.08],[1.1,.12],[1.15,-.05],[1.78,1.13],[2.02,.85],[1.45,2.12],[.68,2.08],[.85,1.82],[.2,2.78],[.13,2.65],[.05,2.87],[.01,2.45],[-.17,2.47],[-.2,2.42],[-.12,2.38],[-.2,2.3],[-.17,1.82],[-.88,2.75],[-.17,2.92],[-.92,2.23],[-.7,2.05],[0,2.1],[.05,2.02],[.1,2.03],[.15,2.08],[.18,2.1],[-.12,1.72],[-.22,1.58],[-.35,1.6],[-.4,1.5],[.4,1.5],[.55,1.45],[.14,1.6],[.12,1.5],[.05,1.45],[-.08,1.5],[-.1,1.4],[-.15,1.32],[.22,1.45],[.28,1.25],[.18,1.3],[.08,1.22],[.25,1.1],[.35,1.12],[.1,1.1],[-.02,1.08],[-.7,1.18],[-.6,1.22],[-.4,1.2],[-.65,.92],[-.55,.9],[-.48,.95],[-.15,.65],[-.22,.7],[.16,.62],[.22,.6],[.3,.55],[.45,.4],[.52,.28],[.6,.18],[.65,.12],[-.55,.2],[-.62,.15],[-.7,.12],[-.5,-.25],[-.58,-.2],[-.65,-.12],[-.42,-.35],[-.35,-.38],[.42,-.3],[.3,-.4],[.22,-.5],[.15,-.62],[-.15,-.6],[-.08,-.85],[.05,-.85],[.02,-.95],[-.05,-1],[-.02,-1.12],[.08,-1.05],[-.12,-1.1]];

const panels=[
 {core:sourcesCore,mid:sourcesMid,outer:sourcesOuter},
 {core:obsCore,mid:obsMid,outer:obsOuter},
 {core:pcaCore,mid:pcaMid,outer:pcaOuter},
 {core:icaCore,mid:icaMid,outer:icaOuter}];
const rects=[[72,36],[451,36],[72,337],[451,337]];
const W=301,H=239,blue="#0000ff";
const lab=v=>tickLabels[tickValues.indexOf(v)];
const grid=[],xAxis=[],yAxis=[],series=[],title=[];
rects.forEach((r,i)=>{
 grid.push({left:r[0],top:r[1],width:W,height:H});
 const ax={min:-3,max:3,interval:1,splitLine:{show:false},
  axisLine:{show:true,onZero:false,lineStyle:{color:"#000",width:1.4}},
  axisTick:{show:true,inside:true,length:4,lineStyle:{color:"#000",width:1}}};
 const lbl={show:true,color:"#000",fontSize:16,fontFamily:"DejaVu Sans",formatter:lab,margin:7,showMinLabel:true,showMaxLabel:true,hideOverlap:false};
 xAxis.push({...ax,type:"value",gridIndex:i,position:"bottom",axisLabel:lbl,
  name:i<2?"x":"",nameLocation:"middle",nameGap:22,nameTextStyle:{color:"#000",fontSize:16,fontFamily:"DejaVu Sans"}});
 xAxis.push({...ax,type:"value",gridIndex:i,position:"top",axisLabel:{show:false}});
 yAxis.push({...ax,type:"value",gridIndex:i,position:"left",axisLabel:{...lbl,margin:6,padding:[3,0,0,0]},
  name:"y",nameLocation:"middle",nameGap:36,nameTextStyle:{color:"#000",fontSize:16,fontFamily:"DejaVu Sans"}});
 yAxis.push({...ax,type:"value",gridIndex:i,position:"right",axisLabel:{show:false}});
 const xi=i*2,yi=i*2;
 title.push({text:titles[i],left:r[0]+W/2,top:r[1]-22,textAlign:"center",padding:0,
  textStyle:{color:"#000",fontSize:20,fontWeight:"normal",fontFamily:"DejaVu Sans"}});
 series.push({type:"lines",coordinateSystem:"cartesian2d",xAxisIndex:xi,yAxisIndex:yi,z:1,silent:true,
  lineStyle:{color:"#000",width:1.6,opacity:1},symbol:"none",
  data:[{coords:[[-3,0],[3,0]]},{coords:[[0,-3],[0,3]]}]});
 series.push({type:"scatter",xAxisIndex:xi,yAxisIndex:yi,z:2,silent:true,symbolSize:9,
  itemStyle:{color:blue,opacity:1},data:panels[i].core});
 series.push({type:"scatter",xAxisIndex:xi,yAxisIndex:yi,z:2,silent:true,symbolSize:3,
  itemStyle:{color:blue,opacity:1},data:panels[i].mid});
 series.push({type:"scatter",xAxisIndex:xi,yAxisIndex:yi,z:2,silent:true,symbolSize:3,
  itemStyle:{color:blue,opacity:1},data:panels[i].outer});
});
const arrow=(name,color,coords,sym)=>({name,type:"lines",coordinateSystem:"cartesian2d",xAxisIndex:2,yAxisIndex:2,z:5,silent:true,
 symbol:sym?["none","arrow"]:"none",symbolSize:11,itemStyle:{color},
 lineStyle:{color,width:3,opacity:1},data:coords.map(c=>({coords:c}))});
series.push(arrow("PCA","#0d9a0d",pcaArrows,true));
series.push(arrow("ICA","#990000",icaArrows,true));
series.push(arrow("ICA","#990000",icaLine,false));
const option={animation:false,backgroundColor:"#fff",title,grid,xAxis,yAxis,series,
 legend:{show:true,z:10,left:461,top:46,orient:"vertical",selectedMode:false,
  data:[{name:"PCA"},{name:"ICA"}],icon:"rect",itemWidth:31,itemHeight:3,itemGap:10,
  padding:[8,8,4,13],backgroundColor:"#fff",borderColor:"#000",borderWidth:1,borderRadius:0,
  textStyle:{color:"#000",fontSize:20,fontFamily:"DejaVu Sans",padding:[0,0,0,12]}}};
echarts.init(document.getElementById("c"),null,{renderer:"canvas"}).setOption(option);
</script></body></html>
